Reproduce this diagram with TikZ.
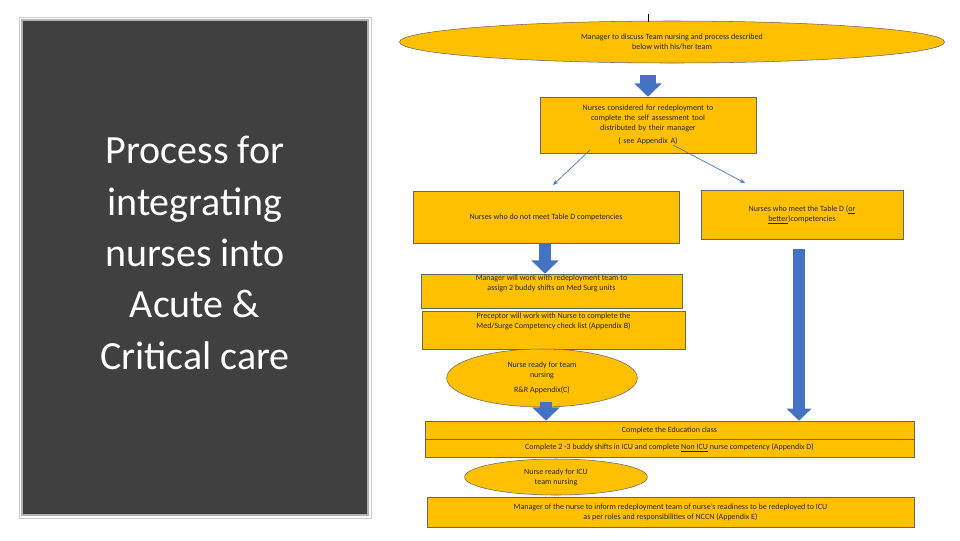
\documentclass[tikz,border=0pt]{standalone}
\usepackage{fontspec}
\setmainfont{Carlito}
\usetikzlibrary{shapes.geometric,arrows.meta}
\definecolor{yel}{HTML}{FFC000}
\definecolor{blu}{HTML}{4472C4}
\definecolor{panel}{HTML}{404040}
\begin{document}
\begin{tikzpicture}[x=0.75pt,y=-0.75pt,
  box/.style={draw=black!60,fill=yel,line width=0.4pt,inner sep=0pt,align=center,font=\fontsize{6}{7.5}\selectfont,text=black!85},
  ell/.style={ellipse,draw=black!60,fill=yel,line width=0.4pt,inner sep=0pt,align=center,font=\fontsize{6}{7.5}\selectfont,text=black!85},
  blk/.style={draw=none,fill=blu},
  thin/.style={blu,line width=0.5pt,-{Stealth[length=4pt,width=3pt]}},
  fat/.style={blu,line width=#1,-{Triangle[length=10pt,width=20pt]}}]
\useasboundingbox (0,0) rectangle (960,540);
\fill[white] (0,0) rectangle (960,540);
\draw[gray!60,line width=1.2pt,fill=panel] (22,20) rectangle (368,515);
\draw[gray!40,line width=0.5pt] (19,17) rectangle (371,518);
\node[text=white,align=center,font=\fontsize{30}{38.5}\selectfont] (title) at (195,253) {Process for\\integrating\\nurses into\\Acute \&\\Critical care};
% top ellipse
\coordinate (tl) at (648,14);
\node[ell,minimum width=545pt*0.75/0.75*0.75,minimum height=31.5pt] (e1) at (672,42) {Manager to discuss Team nursing and process described\\below with his/her team};
\draw[black] (tl) -- (648,22);
\node[box,minimum width=162pt,minimum height=42pt,text width=150pt] (b1) at (648,125) {Nurses considered for redeployment to\\complete the self assessment tool\\distributed by their manager\\[2pt]( see Appendix A)};
\draw[fat=12pt] (648,75) -- (b1.north);
\node[box,minimum width=199.5pt,minimum height=39pt] (b2) at (546,217) {Nurses who do not meet Table D competencies};
\node[box,minimum width=151.5pt,minimum height=36.75pt] (b3) at (802,214.5) {Nurses who meet the Table D (\underline{or}\\\underline{better})competencies};
\draw[thin] (590,150) -- (553,185);
\draw[thin] (673,145) -- (745,183);
\node[box,minimum width=195.75pt,minimum height=25.5pt] (b4) at (551.5,291) {Manager will work with redeployment team to\\assign 2 buddy shifts on Med Surg units\\[5pt]};
\draw[fat=9pt] (b2.south -| 545,0) ++(0,0) -- (b4.north -| 545,0);
\node[box,minimum width=197.25pt,minimum height=28.5pt] (b5) at (553.5,330) {Preceptor will work with Nurse to complete the\\Med/Surge Competency check list (Appendix B)\\[7pt]};
\node[ell,minimum width=143pt,minimum height=43.5pt] (e2) at (542,378) {Nurse ready for team\\nursing\\[4pt]R\&R Appendix(C)};
\node[box,minimum width=366.75pt,minimum height=13.5pt] (b6) at (669.5,430) {Complete the Education class};
\node[box,minimum width=366.75pt,minimum height=13.5pt] (b7) at (669.5,448) {Complete 2 -3 buddy shifts in ICU and complete \underline{Non ICU} nurse competency (Appendix D)};
\draw[fat=9pt] (546,402) -- (b6.north -| 546,0);
\draw[blu,line width=9pt,-{Triangle[length=9pt,width=18pt]}] (b3.south -| 799,0) ++(0,10) -- (b6.north -| 799,0);
\node[ell,minimum width=137pt,minimum height=27pt] (e3) at (556,477) {Nurse ready for ICU\\team nursing};
\node[box,minimum width=365pt,minimum height=22.5pt] (b8) at (670.5,512) {Manager of the nurse to inform redeployment team of nurse’s readiness to be redeployed to ICU\\as per roles and responsibilities of NCCN (Appendix E)};
\end{tikzpicture}
\end{document}
